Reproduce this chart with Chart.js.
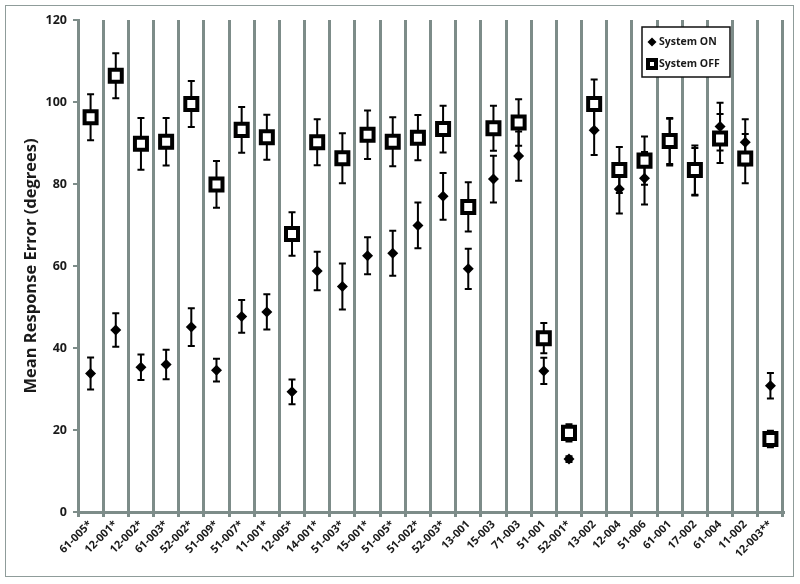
<!DOCTYPE html>
<html>
<head>
<meta charset="utf-8">
<script src="https://cdn.jsdelivr.net/npm/chart.js@4/dist/chart.umd.min.js"></script>
<style>
  html, body { margin: 0; padding: 0; background: #ffffff; }
  #wrap { position: relative; width: 800px; height: 584px; }
  #frame { position: absolute; left: 5px; top: 5px; width: 787px; height: 570px; border: 1.5px solid #8f9c9a; pointer-events: none; }
  canvas { position: absolute; left: 0; top: 0; }
</style>
</head>
<body>
<div id="wrap">
  <canvas id="c" width="800" height="584"></canvas>
  <div id="frame"></div>
</div>
<script>
const categories = ["61-005*","12-001*","12-002*","61-003*","52-002*","51-009*","51-007*","11-001*","12-005*","14-001*","51-003*","15-001*","51-005*","51-002*","52-003*","13-001","15-003","71-003","51-001","52-001*","13-002","12-004","51-006","61-001","17-002","61-004","11-002","12-003**"];
const onMean  = [33.8,44.4,35.3,36.0,45.1,34.6,47.7,48.8,29.3,58.8,55.0,62.5,63.1,69.9,77.0,59.3,81.2,86.8,34.4,12.9,93.1,78.8,81.4,90.2,83.0,94.0,90.2,30.8];
const onErr   = [3.9,4.1,3.1,3.6,4.6,2.8,4.0,4.3,3.0,4.7,5.6,4.5,5.5,5.6,5.7,4.9,5.7,6.0,3.2,0.7,6.0,6.0,6.4,5.7,5.8,5.8,5.6,3.1];
const offMean = [96.3,106.4,89.8,90.3,99.5,79.9,93.2,91.4,67.8,90.2,86.3,92.0,90.3,91.3,93.4,74.4,93.6,95.0,42.4,19.3,99.5,83.4,85.7,90.5,83.4,91.1,86.2,17.8];
const offErr  = [5.6,5.5,6.3,5.8,5.6,5.7,5.6,5.5,5.3,5.6,6.1,5.9,6.0,5.5,5.7,6.0,5.5,5.7,3.7,2.1,6.0,5.6,5.9,5.6,6.0,6.0,6.0,2.0];
const yTicks = [0,20,40,60,80,100,120];
const seriesNames = ["System ON","System OFF"];

const FONT = "'Open Sans', 'DejaVu Sans', sans-serif";
const GRID = "#7d8c89";
const TEXT = "#1a1a1a";

const errorBars = {
  id: 'errorBars',
  beforeDatasetsDraw(chart) {
    const ctx = chart.ctx;
    const x = chart.scales.x, y = chart.scales.y;
    const sets = [[onMean, onErr], [offMean, offErr]];
    ctx.save();
    ctx.strokeStyle = '#000';
    ctx.lineWidth = 2;
    sets.forEach(([m, e]) => {
      m.forEach((v, i) => {
        const px = x.getPixelForValue(i);
        const top = y.getPixelForValue(v + e[i]);
        const bot = y.getPixelForValue(v - e[i]);
        ctx.beginPath();
        ctx.moveTo(px, top); ctx.lineTo(px, bot);
        ctx.moveTo(px - 3.5, top); ctx.lineTo(px + 3.5, top);
        ctx.moveTo(px - 3.5, bot); ctx.lineTo(px + 3.5, bot);
        ctx.stroke();
      });
    });
    ctx.restore();
  }
};

const boxLegend = {
  id: 'boxLegend',
  afterDraw(chart) {
    const ctx = chart.ctx;
    ctx.save();
    const bx = 642, by = 27, bw = 88, bh = 50;
    ctx.fillStyle = '#fff';
    ctx.fillRect(bx, by, bw, bh);
    ctx.strokeStyle = '#111';
    ctx.lineWidth = 1.5;
    ctx.strokeRect(bx, by, bw, bh);
    ctx.fillStyle = '#000';
    ctx.beginPath();
    ctx.moveTo(652, 37.5); ctx.lineTo(656.5, 42); ctx.lineTo(652, 46.5); ctx.lineTo(647.5, 42);
    ctx.closePath(); ctx.fill();
    ctx.fillStyle = '#000';
    ctx.fillRect(646, 58, 12, 12);
    ctx.fillStyle = '#fff';
    ctx.fillRect(650, 62, 4, 4);
    ctx.fillStyle = TEXT;
    ctx.font = "bold 10.5px " + FONT;
    ctx.textBaseline = 'middle';
    ctx.fillText(seriesNames[0], 659, 42);
    ctx.fillText(seriesNames[1], 659, 64.5);
    ctx.restore();
  }
};

new Chart(document.getElementById('c'), {
  type: 'line',
  data: {
    labels: categories,
    datasets: [
      { label: seriesNames[0], data: onMean, showLine: false, order: 1,
        pointStyle: 'rectRot', pointRadius: 5.5, pointBackgroundColor: '#000', pointBorderColor: '#000', pointBorderWidth: 0 },
      { label: seriesNames[1], data: offMean, showLine: false, order: 0,
        pointStyle: 'rect', pointRadius: 8.5, pointBackgroundColor: '#fff', pointBorderColor: '#000', pointBorderWidth: 4 }
    ]
  },
  options: {
    responsive: false,
    animation: false,
    layout: { padding: { left: 6, right: 17, top: 20, bottom: 8 } },
    plugins: { legend: { display: false }, tooltip: { enabled: false } },
    scales: {
      x: {
        offset: true,
        grid: { display: true, offset: true, color: GRID, lineWidth: 3, tickLength: 5, drawTicks: true },
        border: { display: true, color: GRID, width: 3 },
        ticks: { autoSkip: false, maxRotation: 45, minRotation: 45, color: TEXT, padding: 1,
                 font: { family: FONT, weight: 'bold', size: 11 } },
        afterFit(s) { s.height = 64; }
      },
      y: {
        min: 0, max: 120,
        afterBuildTicks(s) { s.ticks = yTicks.map(v => ({ value: v })); },
        grid: { drawOnChartArea: false, color: GRID, lineWidth: 2, tickLength: 5 },
        border: { display: true, color: GRID, width: 3 },
        ticks: { color: TEXT, padding: 6, font: { family: FONT, weight: 'bold', size: 12.5 } },
        title: { display: true, text: 'Mean Response Error (degrees)', color: TEXT,
                 font: { family: FONT, weight: 'bold', size: 16.5 }, padding: { top: 15, bottom: 0 } },
        afterFit(s) { s.width = 72; }
      }
    }
  },
  plugins: [errorBars, boxLegend]
});
</script>
</body>
</html>
